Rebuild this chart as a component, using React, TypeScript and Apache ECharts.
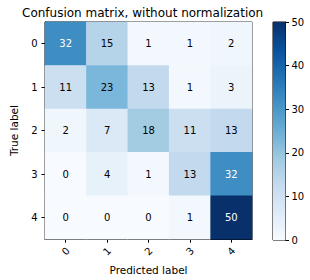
import React, { useEffect, useRef } from "react";
import * as echarts from "echarts";

const classLabels = ["0", "1", "2", "3", "4"];
const row0 = [32, 15, 1, 1, 2];
const row1 = [11, 23, 13, 1, 3];
const row2 = [2, 7, 18, 11, 13];
const row3 = [0, 4, 1, 13, 32];
const row4 = [0, 0, 0, 1, 50];
const matrix = [row0, row1, row2, row3, row4];
const colorbarMax = 50;
const blues = ["#f7fbff", "#deebf7", "#c6dbef", "#9ecae1", "#6baed6", "#4292c6", "#2171b5", "#08519c", "#08306b"];

export default function App() {
  const ref = useRef<HTMLDivElement>(null);
  useEffect(() => {
    if (!ref.current) return;
    const chart = echarts.init(ref.current, undefined, { renderer: "svg" });
    const maxVal = Math.max(...matrix.flat());
    const thresh = maxVal / 2;
    const data: any[] = [];
    matrix.forEach((row, i) =>
      row.forEach((v, j) => {
        data.push({ value: [j, i, v], label: { color: v > thresh ? "#ffffff" : "#000000" } });
      })
    );
    const font = "DejaVu Sans";
    chart.setOption({
      animation: false,
      textStyle: { fontFamily: font },
      title: {
        text: "Confusion matrix, without normalization",
        left: 17,
        top: 2,
        textStyle: { fontFamily: font, fontSize: 12, fontWeight: "normal", color: "#000" },
      },
      grid: [
        { left: 35, top: 22, width: 217, height: 218, show: true, borderColor: "#000", borderWidth: 1, backgroundColor: "transparent" },
        { left: 273, top: 22, width: 12.5, height: 218, show: true, borderColor: "#000", borderWidth: 1, backgroundColor: "transparent" },
      ],
      visualMap: {
        type: "continuous",
        min: 0,
        max: colorbarMax,
        show: false,
        seriesIndex: 0,
        inRange: { color: blues },
      },
      xAxis: [
        {
          type: "category",
          gridIndex: 0,
          data: classLabels,
          name: "Predicted label",
          nameLocation: "middle",
          nameGap: 20,
          nameTextStyle: { fontFamily: font, fontSize: 10.5, color: "#000" },
          axisLine: { show: true, lineStyle: { color: "#000" } },
          axisTick: { show: true, alignWithLabel: true, length: 3.5, lineStyle: { color: "#000" } },
          axisLabel: { rotate: 45, fontSize: 10, color: "#000", margin: 12, align: "center", verticalAlign: "middle", fontFamily: font },
          splitLine: { show: false },
        },
        {
          type: "category",
          gridIndex: 1,
          data: ["c"],
          axisLine: { show: false },
          axisTick: { show: false },
          axisLabel: { show: false },
        },
      ],
      yAxis: [
        {
          type: "category",
          gridIndex: 0,
          data: classLabels,
          inverse: true,
          name: "True label",
          nameLocation: "middle",
          nameGap: 26,
          nameRotate: 90,
          nameTextStyle: { fontFamily: font, fontSize: 10.5, color: "#000" },
          axisLine: { show: true, lineStyle: { color: "#000" } },
          axisTick: { show: true, alignWithLabel: true, length: 3.5, lineStyle: { color: "#000" } },
          axisLabel: { fontSize: 10, color: "#000", margin: 7.5, fontFamily: font },
          splitLine: { show: false },
        },
        {
          type: "value",
          gridIndex: 1,
          position: "right",
          min: 0,
          max: colorbarMax,
          interval: 10,
          axisLine: { show: true, onZero: false, lineStyle: { color: "#000" } },
          axisTick: { show: true, length: 3.5, lineStyle: { color: "#000" } },
          axisLabel: { fontSize: 10, color: "#000", margin: 6, align: "left", fontFamily: font },
          splitLine: { show: false },
        },
      ],
      series: [
        {
          type: "heatmap",
          xAxisIndex: 0,
          yAxisIndex: 0,
          data,
          label: { show: true, fontSize: 10, fontFamily: font },
          emphasis: { disabled: true },
          silent: true,
        },
        {
          type: "bar",
          xAxisIndex: 1,
          yAxisIndex: 1,
          data: [colorbarMax],
          barWidth: "100%",
          silent: true,
          itemStyle: {
            color: new echarts.graphic.LinearGradient(
              0, 1, 0, 0,
              blues.map((c, i) => ({ offset: i / (blues.length - 1), color: c }))
            ),
          },
        },
      ],
    });
    return () => chart.dispose();
  }, []);
  return <div ref={ref} style={{ position: "absolute", left: 0, top: 0, width: 310, height: 280 }} />;
}
